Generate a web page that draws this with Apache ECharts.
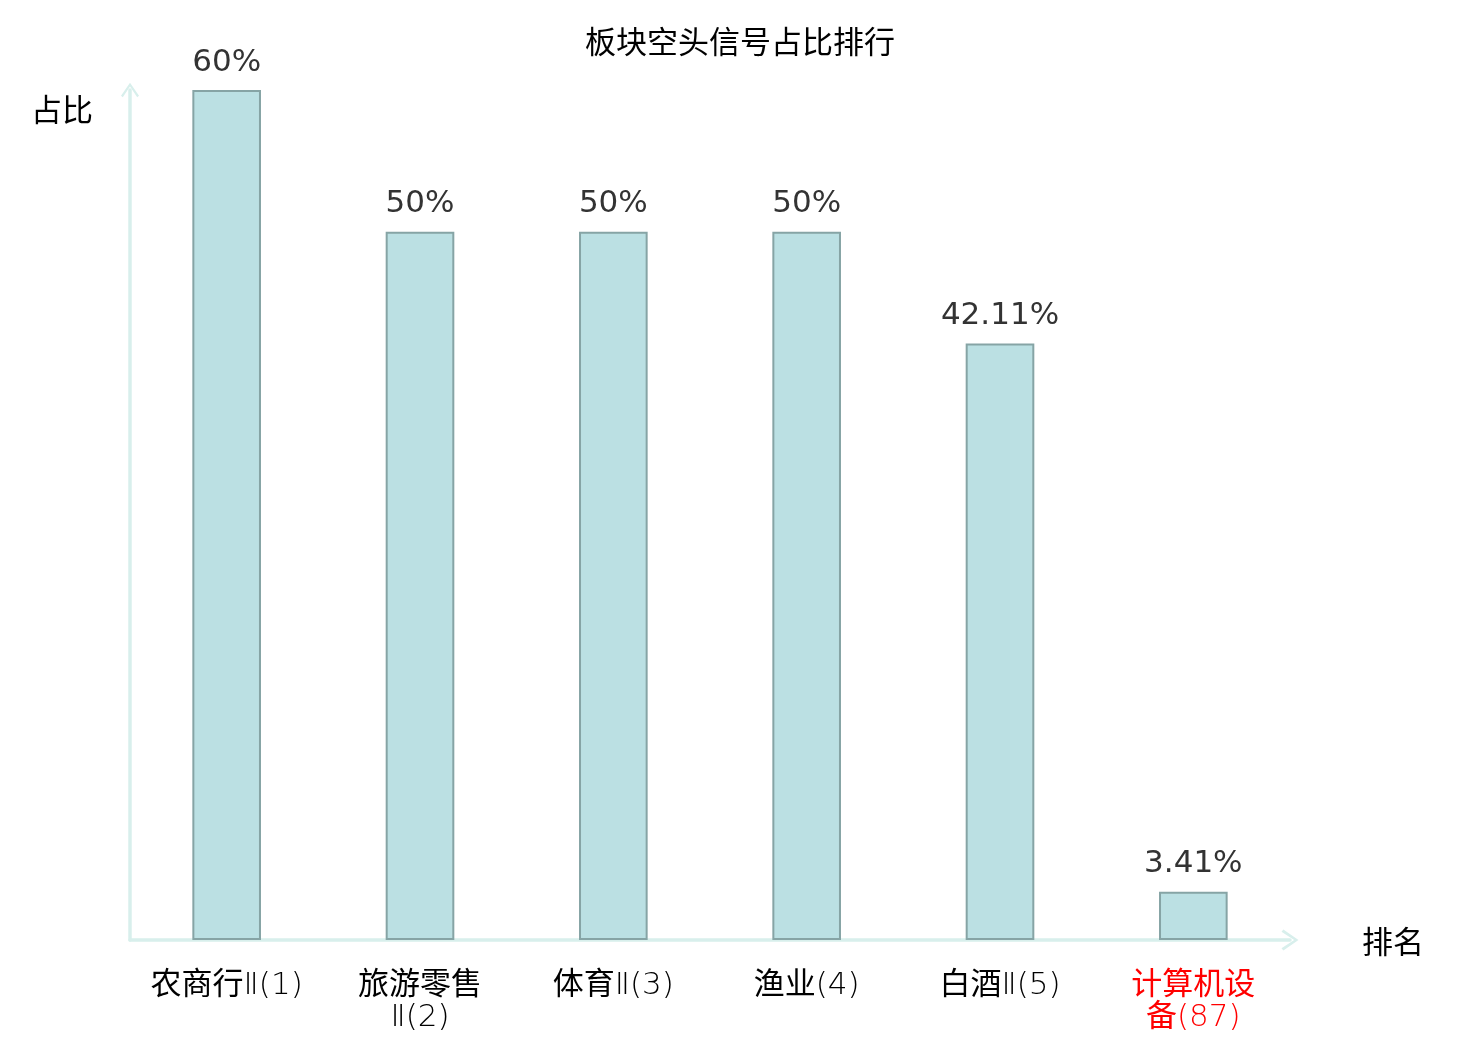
<!DOCTYPE html>
<html>
<head>
<meta charset="utf-8">
<script src="https://cdn.jsdelivr.net/npm/echarts@6/dist/echarts.min.js"></script>
<style>
html,body{margin:0;padding:0;background:#fff;}
#chart{width:1480px;height:1040px;}
</style>
</head>
<body>
<div id="chart"></div>
<script>
const categories = ['农商行Ⅱ(1)', '旅游零售\nⅡ(2)', '体育Ⅱ(3)', '渔业(4)', '白酒Ⅱ(5)', '计算机设\n备(87)'];
const values = [60, 50, 50, 50, 42.11, 3.41];
const valueLabels = ['60%', '50%', '50%', '50%', '42.11%', '3.41%'];
const highlightIndex = 5;

const FONT = "'DejaVu Sans', 'Noto Sans CJK SC', sans-serif";
const LIGHT = "'DejaVu Sans Light', 'DejaVu Sans', 'Noto Sans CJK SC', sans-serif";
const AXIS_COLOR = '#d8efec';
const chevron = 'path://M0,16 L11,0 L22,16 L19.8,18 L11,4.6 L2.2,18 Z';

const chart = echarts.init(document.getElementById('chart'));
chart.setOption({
  animation: false,
  backgroundColor: '#ffffff',
  textStyle: { fontFamily: FONT },
  title: {
    text: '板块空头信号占比排行',
    left: 'center',
    top: 24,
    textStyle: { fontFamily: FONT, fontSize: 31, fontWeight: 'normal', color: '#000' }
  },
  grid: { left: 130, right: 190, top: 90, bottom: 100, containLabel: false },
  xAxis: {
    type: 'category',
    data: categories,
    name: '{n|排名}',
    nameLocation: 'end',
    nameGap: 72,
    nameTextStyle: {
      fontFamily: FONT, fontSize: 31, color: '#000', align: 'left', verticalAlign: 'middle',
      rich: { n: { fontFamily: FONT, fontSize: 31, color: '#000', padding: [10, 0, 0, 0] } }
    },
    axisLine: {
      show: true,
      lineStyle: { color: AXIS_COLOR, width: 3.5 },
      symbol: ['none', chevron],
      symbolSize: [22, 17]
    },
    axisTick: { show: false },
    axisLabel: {
      interval: 0,
      margin: 30,
      fontFamily: LIGHT,
      fontSize: 31,
      lineHeight: 32,
      color: function (val, idx) { return idx === highlightIndex ? '#ff0000' : '#000000'; }
    },
    splitLine: { show: false }
  },
  yAxis: {
    type: 'value',
    min: 0,
    max: 60,
    name: '占比',
    nameLocation: 'end',
    nameGap: -23,
    nameTextStyle: { fontFamily: FONT, fontSize: 31, color: '#000', align: 'right', verticalAlign: 'middle', padding: [0, 37, 0, 0] },
    axisLine: {
      show: true,
      lineStyle: { color: AXIS_COLOR, width: 3.5 },
      symbol: ['none', chevron],
      symbolSize: [18, 15]
    },
    axisTick: { show: false },
    axisLabel: { show: false },
    splitLine: { show: false }
  },
  series: [{
    type: 'bar',
    data: values,
    barWidth: '35.5%',
    itemStyle: { color: '#bbe0e3', borderColor: '#86a4a5', borderWidth: 2 },
    label: {
      show: true,
      position: 'top',
      distance: 12,
      fontFamily: FONT,
      fontSize: 31,
      color: '#333333',
      formatter: function (p) { return valueLabels[p.dataIndex]; }
    }
  }]
});
</script>
</body>
</html>
